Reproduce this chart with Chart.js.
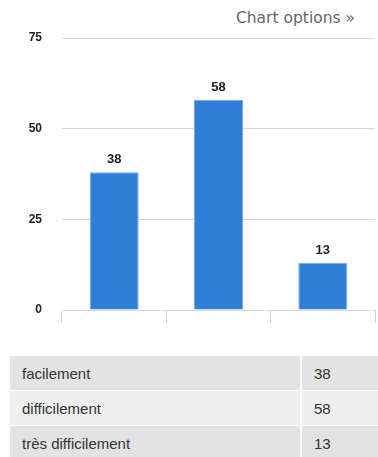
<!DOCTYPE html>
<html lang="fr">
<head>
    <meta charset="UTF-8">
    <title>Résultats</title>
    <style>
        body {
            margin: 0;
            padding: 0;
            background: #fff;
            font-family: "Liberation Sans", Arial, sans-serif;
            overflow: hidden;
        }
        #options {
            position: absolute;
            top: 9px;
            right: 23px;
            font-family: "DejaVu Sans", sans-serif;
            font-size: 15.5px;
            color: #666;
        }
        #chartBox {
            position: absolute;
            top: 0;
            left: 0;
            width: 378px;
            height: 340px;
        }
        table {
            position: absolute;
            top: 355px;
            left: 8px;
            width: 390px;
            table-layout: fixed;
            border-collapse: separate;
            border-spacing: 2px 1px;
            font-size: 15px;
            color: #333;
        }
        td {
            box-sizing: border-box;
            height: 34px;
            padding: 0 0 0 12px;
        }
        td.cat { width: 290px; }
        tr:nth-child(odd) td { background: #e3e3e3; }
        tr:nth-child(even) td { background: #efefef; }
    </style>
</head>
<body>
    <div id="options">Chart options »</div>
    <div id="chartBox"><canvas id="chart"></canvas></div>
    <table id="dataTable"></table>
    <script src="https://cdn.jsdelivr.net/npm/chart.js@4"></script>
    <script>
        const categories = ['facilement', 'difficilement', 'très difficilement'];
        const values = [38, 58, 13];
        const yTicks = [0, 25, 50, 75];

        // table under the chart
        const table = document.getElementById('dataTable');
        categories.forEach((c, i) => {
            const tr = document.createElement('tr');
            tr.innerHTML = '<td class="cat">' + c + '</td><td>' + values[i] + '</td>';
            table.appendChild(tr);
        });

        const valueLabels = {
            id: 'valueLabels',
            afterDatasetsDraw(chart) {
                const ctx = chart.ctx;
                const meta = chart.getDatasetMeta(0);
                ctx.save();
                ctx.font = 'bold 13px "Liberation Sans", Arial, sans-serif';
                ctx.fillStyle = '#222';
                ctx.textAlign = 'center';
                ctx.textBaseline = 'bottom';
                meta.data.forEach((bar, i) => {
                    ctx.fillText(values[i], bar.x, bar.y - 6);
                });
                ctx.restore();
            }
        };

        new Chart(document.getElementById('chart'), {
            type: 'bar',
            data: {
                labels: categories,
                datasets: [{
                    data: values,
                    backgroundColor: '#2f7ed8',
                    borderColor: '#7aaae6',
                    borderWidth: 1,
                    barPercentage: 0.47,
                    categoryPercentage: 1
                }]
            },
            options: {
                responsive: true,
                maintainAspectRatio: false,
                animation: false,
                layout: { padding: { top: 38, right: 3, left: 0, bottom: 0 } },
                plugins: {
                    legend: { display: false },
                    tooltip: { enabled: false }
                },
                scales: {
                    x: {
                        ticks: { display: false },
                        grid: {
                            drawOnChartArea: false,
                            tickLength: 13,
                            color: '#c8d4e0'
                        },
                        border: { color: '#d8d8d8' },
                        afterFit(scale) { scale.height = 30; }
                    },
                    y: {
                        min: 0,
                        max: 75,
                        afterBuildTicks(scale) {
                            scale.ticks = yTicks.map(v => ({ value: v }));
                        },
                        ticks: {
                            padding: 20,
                            color: '#222',
                            font: { family: '"Liberation Sans", Arial, sans-serif', size: 12, weight: 'bold' }
                        },
                        grid: { color: '#d8d8d8', drawTicks: false },
                        border: { display: false },
                        afterFit(scale) { scale.width = 62; }
                    }
                }
            },
            plugins: [valueLabels]
        });
    </script>
</body>
</html>
